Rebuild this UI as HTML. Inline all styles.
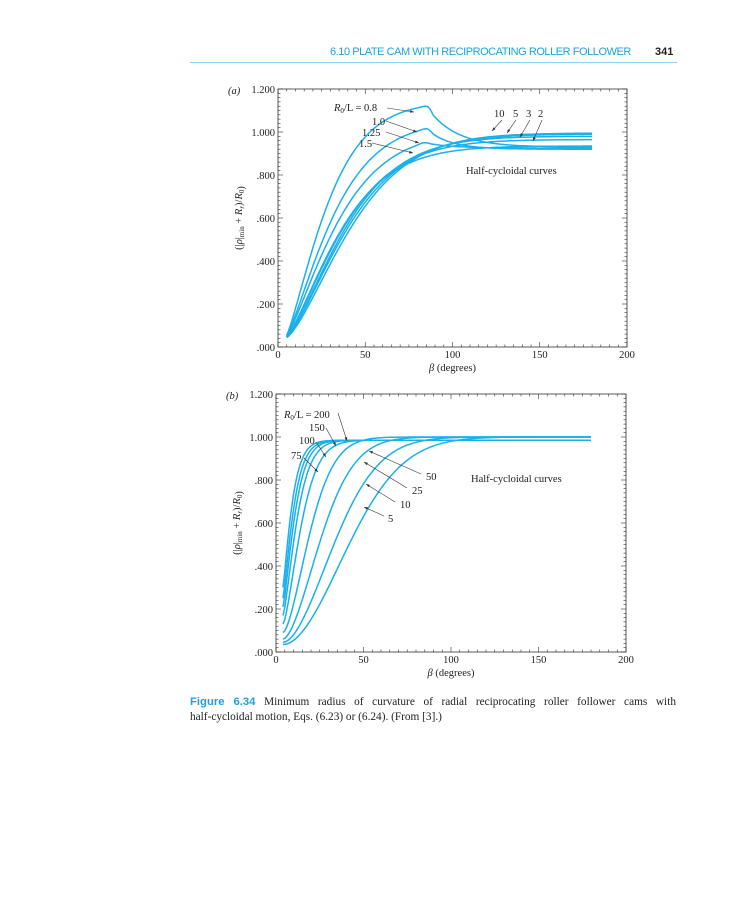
<!DOCTYPE html>
<html><head><meta charset="utf-8"><style>
body{margin:0;background:#fff;width:737px;height:900px;overflow:hidden;position:relative;font-family:"Liberation Serif",serif}
.hdr{position:absolute;top:46px;left:330px;font-family:"Liberation Sans",sans-serif;font-size:11px;color:#1aa3e0;letter-spacing:-0.45px;white-space:nowrap}
.pg{position:absolute;top:46px;left:655px;font-family:"Liberation Sans",sans-serif;font-size:11px;font-weight:bold;color:#222}
.line{position:absolute;top:62px;left:190px;width:487px;height:1px;background:#8fd0f0}
.cap{position:absolute;top:695px;left:190px;width:486px;font-size:11.3px;line-height:14.5px;color:#222;white-space:nowrap}
.cap span{display:block;text-align:justify;text-align-last:justify}
.cap b{font-family:"Liberation Sans",sans-serif;color:#1aa3e0}
svg{position:absolute;left:0;top:0}
</style></head><body>
<div class="hdr">6.10 PLATE CAM WITH RECIPROCATING ROLLER FOLLOWER</div>
<div class="pg">341</div>
<div class="line"></div>
<svg id="s" width="737" height="900" font-family="Liberation Serif, serif" font-size="10.5" fill="#222"></svg>
<div class="cap"><span><b>Figure 6.34</b> Minimum radius of curvature of radial reciprocating roller follower cams with</span>half-cycloidal motion, Eqs. (6.23) or (6.24). (From [3].)</div>
<script>
const s=document.getElementById('s');let h='';
function axes(L,R,T,B,lab){
 h+=`<rect x="${L}" y="${T}" width="${R-L}" height="${B-T}" fill="none" stroke="#333" stroke-width="0.8"/>`;
 for(let i=0;i<=40;i++){let x=L+(R-L)*i/40,l=i%10==0?5:2.5;h+=`<line x1="${x}" y1="${B}" x2="${x}" y2="${B-l}" stroke="#333" stroke-width="0.6"/><line x1="${x}" y1="${T}" x2="${x}" y2="${T+l}" stroke="#333" stroke-width="0.6"/>`;}
 for(let i=0;i<=60;i++){let y=B-(B-T)*i/60,l=i%10==0?5:2.5;h+=`<line x1="${L}" y1="${y}" x2="${L+l}" y2="${y}" stroke="#333" stroke-width="0.6"/><line x1="${R}" y1="${y}" x2="${R-l}" y2="${y}" stroke="#333" stroke-width="0.6"/>`;}
 const yl=['.000','.200','.400','.600','.800','1.000','1.200'];
 for(let i=0;i<7;i++){h+=`<text x="${L-3}" y="${B-(B-T)*i/6+4}" text-anchor="end">${yl[i]}</text>`;}
 [0,50,100,150,200].forEach((v,i)=>{h+=`<text x="${L+(R-L)*i/4}" y="${B+11}" text-anchor="middle">${v}</text>`;});
 h+=`<text x="${(L+R)/2}" y="${B+24}" text-anchor="middle"><tspan font-style="italic">β</tspan> (degrees)</text>`;
 h+=`<text x="${L-50}" y="${T+5}" font-style="italic">(${lab})</text>`;
 h+=`<text transform="translate(${L-36},${(T+B)/2}) rotate(-90)" text-anchor="middle">(|<tspan font-style="italic">ρ</tspan>|<tspan font-size="7" dy="2">min</tspan><tspan dy="-2"> + </tspan><tspan font-style="italic">R<tspan font-size="7" dy="2">r</tspan></tspan><tspan dy="-2">)/</tspan><tspan font-style="italic">R</tspan><tspan font-size="7" dy="2">0</tspan>)</text>`;
}
function curve(L,R,T,B,f,a0){let p='';for(let b=a0;b<=180;b+=1){let x=L+(R-L)*b/200,y=B-(B-T)*f(b)/1.2;p+=(p?'L':'M')+x.toFixed(1)+','+y.toFixed(1);}
 h+=`<path d="${p}" fill="none" stroke="#1ab0ea" stroke-width="1.5"/>`;}
function arr(x1,y1,x2,y2){h+=`<line x1="${x1}" y1="${y1}" x2="${x2}" y2="${y2}" stroke="#333" stroke-width="0.6"/>`;let a=Math.atan2(y2-y1,x2-x1),l=4;h+=`<path d="M${x2},${y2}L${x2-l*Math.cos(a-0.35)},${y2-l*Math.sin(a-0.35)}L${x2-l*Math.cos(a+0.35)},${y2-l*Math.sin(a+0.35)}Z" fill="#333"/>`;}
let A=[278,627,89,347];axes(...A,'a');
const g=(b,sc,p)=>1-Math.exp(-Math.pow(Math.max(b-4,0)/sc,p));
function peakC(pk,sc,fin,tau,pb){return b=>{let r=0.04+(pk-0.04)*g(b,sc,1.3)/g(pb,sc,1.3);
 let d=fin+(pk-fin)*Math.exp(-(b-pb)/tau);
 if(b<pb-4)return r; if(b>pb+4)return d;
 let t=(b-(pb-4))/8, r0=0.04+(pk-0.04)*g(pb-4,sc,1.3)/g(pb,sc,1.3), d0=fin+(pk-fin)*Math.exp(-4/tau);
 return t<=0.5? r0+(pk-r0)*Math.sin(t*Math.PI) : pk-(pk-d0)*(1-Math.cos((t-0.5)*Math.PI));};}
curve(...A,peakC(1.12,28,0.93,16,85),5);
curve(...A,peakC(1.015,32,0.92,13,85),5);
curve(...A,peakC(0.95,35,0.925,15,84),5);
curve(...A,b=>0.04+0.895*g(b,37,1.35),5);
curve(...A,b=>0.04+0.925*g(b,39,1.35),5);
curve(...A,b=>0.04+0.94*g(b,41,1.4),5);
curve(...A,b=>0.04+0.95*g(b,43,1.4),5);
curve(...A,b=>0.04+0.955*g(b,45,1.45),5);
h+=`<text x="334" y="111"><tspan font-style="italic">R</tspan><tspan font-size="7" dy="2">0</tspan><tspan dy="-2">/L = 0.8</tspan></text>`;arr(387,108,414,112);
h+=`<text x="372" y="125">1.0</text>`;arr(386,121,417,132);
h+=`<text x="362" y="136">1.25</text>`;arr(386,132,419,143);
h+=`<text x="359" y="147">1.5</text>`;arr(372,143,413,153);
h+=`<text x="494" y="117">10</text><text x="513" y="117">5</text><text x="526" y="117">3</text><text x="538" y="117">2</text>`;
arr(502,120,492,131);arr(516,120,507,133);arr(530,120,520,137);arr(542,120,533,141);
h+=`<text x="466" y="174">Half-cycloidal curves</text>`;
let Bc=[276,626,394,652];axes(...Bc,'b');
[[0.3,6,1.2,0.985],[0.25,7,1.25,0.985],[0.21,8,1.3,0.985],[0.17,9.5,1.35,0.985],[0.13,12.5,1.45,0.985],[0.09,19,1.6,1],[0.06,27,1.7,1],[0.045,37,1.8,1],[0.035,47,1.9,1]].forEach(([y0,sc,p,f])=>{curve(...Bc,b=>f-(f-y0)*Math.exp(-Math.pow((b-4)/sc,p)),4);});
h+=`<text x="284" y="418"><tspan font-style="italic">R</tspan><tspan font-size="7" dy="2">0</tspan><tspan dy="-2">/L = 200</tspan></text>`;arr(338,413,347,441);
h+=`<text x="309" y="431">150</text>`;arr(326,428,336,446);
h+=`<text x="299" y="444">100</text>`;arr(316,442,326,457);
h+=`<text x="291" y="459">75</text>`;arr(304,458,318,472);
h+=`<text x="426" y="480">50</text>`;arr(421,474,369,451);
h+=`<text x="412" y="494">25</text>`;arr(407,488,364,462);
h+=`<text x="400" y="508">10</text>`;arr(395,502,366,484);
h+=`<text x="388" y="522">5</text>`;arr(384,516,364,507);
h+=`<text x="471" y="482">Half-cycloidal curves</text>`;
s.innerHTML=h;
</script>
</body></html>
